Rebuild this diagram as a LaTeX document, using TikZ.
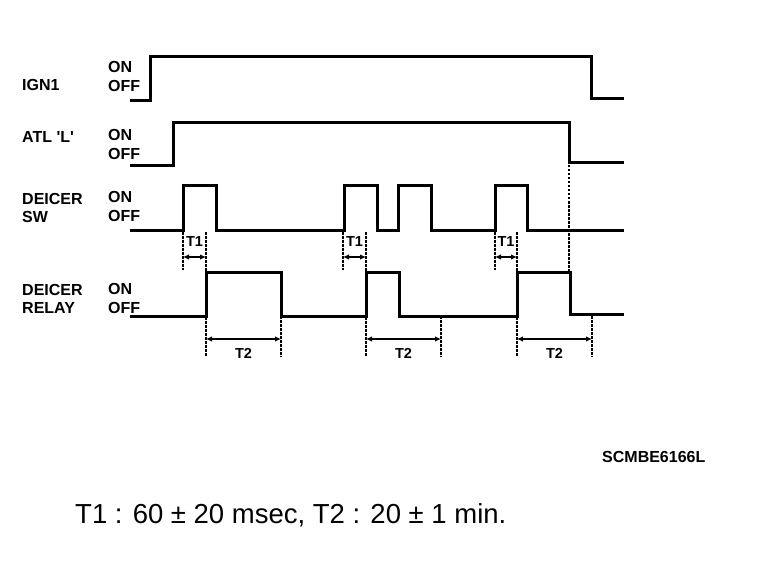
\documentclass[tikz,border=0pt]{standalone}
\usepackage{fontspec}
\setmainfont{Liberation Sans}
\usetikzlibrary{arrows.meta}
\begin{document}
\begin{tikzpicture}[x=1bp,y=-1bp,
  sig/.style={line width=3bp, line join=miter},
  guide/.style={line width=1.5bp, dash pattern=on 2.5bp off 1.5bp},
  dim/.style={line width=1.8bp, {Latex[length=6bp,width=5.5bp]}-{Latex[length=6bp,width=5.5bp]}},
  lbl/.style={anchor=base west, inner sep=0pt, font=\fontsize{16bp}{18bp}\selectfont\bfseries},
  tlbl/.style={anchor=base, inner sep=0pt, font=\fontsize{14.5bp}{16bp}\selectfont\bfseries},
  note/.style={anchor=base west, inner sep=0pt},
]
\useasboundingbox (0,0) rectangle (768,570);

% signal traces
\draw[sig] (130,101) -| (150,57) -| (591,99) -- (624,99);
\draw[sig] (130,166) -| (173,123) -| (569,163) -- (624,163);
\draw[sig] (130,230) -| (183,186) -| (216,230) -| (344,186) -| (377,230) -| (398,186) -| (431,230) -| (495,186) -| (527,230) -- (624,230);
\draw[sig] (130,316) -| (206,272) -| (281,316) -| (366,272) -| (399,316) -| (517,272) -| (570,314) -- (624,314);

% long guide from ATL fall
\coordinate (atlfall) at (569,165);
\coordinate (relfall) at (569,271);
\draw[guide] (atlfall) -- (relfall);

% T1 dimensions
\foreach \i/\xa/\xb in {1/183/206, 2/343/366, 3/495/517} {
  \coordinate (t1ua\i) at (\xa,232); \coordinate (t1la\i) at (\xa,270);
  \coordinate (t1ub\i) at (\xb,232); \coordinate (t1lb\i) at (\xb,272);
  \coordinate (t1l\i) at (\xa,257); \coordinate (t1r\i) at (\xb,257);
  \draw[guide] (t1ua\i) -- (t1la\i);
  \draw[guide] (t1ub\i) -- (t1lb\i);
  \draw[dim] (t1l\i) -- (t1r\i);
  \node[tlbl] (t1txt\i) at ({(\xa+\xb)/2},246) {T1};
}

% T2 dimensions
\foreach \i/\xa/\xb in {1/206/281, 2/366/441, 3/517/592} {
  \coordinate (t2ua\i) at (\xa,317); \coordinate (t2la\i) at (\xa,357);
  \coordinate (t2ub\i) at (\xb,316); \coordinate (t2lb\i) at (\xb,357);
  \coordinate (t2l\i) at (\xa,339); \coordinate (t2r\i) at (\xb,339);
  \draw[guide] (t2ua\i) -- (t2la\i);
  \draw[guide] (t2ub\i) -- (t2lb\i);
  \draw[dim] (t2l\i) -- (t2r\i);
  \node[tlbl] (t2txt\i) at ({(\xa+\xb)/2},358) {T2};
}

% labels
\node[lbl] (ign) at (22,91) {IGN1};
\node[lbl] (ignon) at (108,73) {ON};
\node[lbl] (ignoff) at (108,92) {OFF};
\node[lbl] (atl) at (22,143) {ATL \textquotesingle L\textquotesingle};
\node[lbl] (atlon) at (108,141) {ON};
\node[lbl] (atloff) at (108,160) {OFF};
\node[lbl] (swa) at (22,205) {DEICER};
\node[lbl] (swb) at (22,223) {SW};
\node[lbl] (swon) at (108,203) {ON};
\node[lbl] (swoff) at (108,222) {OFF};
\node[lbl] (rela) at (22,295) {DEICER};
\node[lbl] (relb) at (22,313) {RELAY};
\node[lbl] (relon) at (108,294) {ON};
\node[lbl] (reloff) at (108,313) {OFF};

\node[note, font=\fontsize{16bp}{18bp}\selectfont\bfseries] (code) at (602,462) {SCMBE6166L};
\node[note, font=\fontsize{27.5bp}{30bp}\selectfont] (legend) at (75,523) {T1 : 60 ± 20 msec, T2 : 20 ± 1 min.};
\end{tikzpicture}
\end{document}
